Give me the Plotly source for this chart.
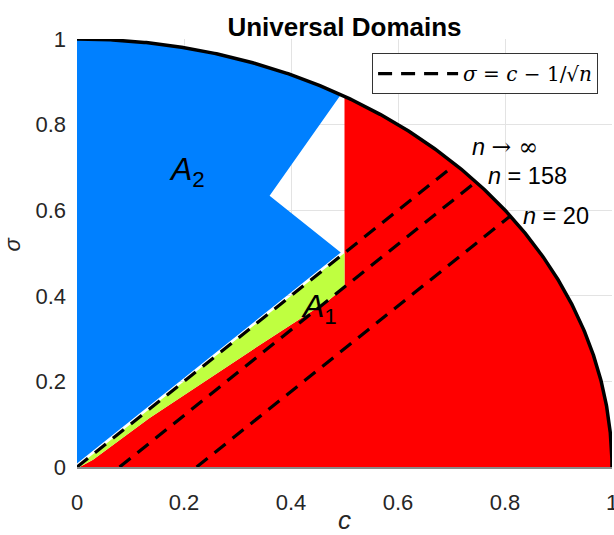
import numpy as np
import plotly.graph_objects as go

# ---- data ----
n_values = [np.inf, 158, 20]
n_labels = ["<i>n</i> <span style='font-family:DejaVu Serif'>→ ∞</span>",
            "<i>n</i> = 158", "<i>n</i> = 20"]

# lower boundary of A1 (green / red border)
a1_low_c = [0.005, 0.03, 0.135, 0.25, 0.327, 0.47, 0.5]
a1_low_s = [0.0, 0.017, 0.114, 0.21, 0.273, 0.389, 0.42]

# blue A2 region: lower edge offset above sigma = c, notch vertices
a2_gap = 0.008
notch_c = [0.493, 0.36, 0.493]
notch_s = [0.501, 0.634, None]   # top vertex lies on the unit circle
c_split = 0.5

x_ticks = [0, 0.2, 0.4, 0.6, 0.8, 1]
y_ticks = [0, 0.2, 0.4, 0.6, 0.8, 1]


def arc(c0, c1, num=200):
    t0, t1 = np.arccos(c0), np.arccos(c1)
    t = np.linspace(t0, t1, num)
    return list(np.cos(t)), list(np.sin(t))


BLUE = "#0080ff"
RED = "#ff0000"
GREEN = "#bfff40"

fig = go.Figure()

# A2 (blue)
ac, asg = arc(notch_c[2], 0.0)
blue_c = [0.0, notch_c[0], notch_c[1], notch_c[2]] + ac + [0.0]
blue_s = [a2_gap, notch_s[0], notch_s[1], float(np.sqrt(1 - notch_c[2] ** 2))] + asg + [a2_gap]
fig.add_trace(go.Scatter(x=blue_c, y=blue_s, fill="toself", fillcolor=BLUE,
                         mode="lines", line=dict(width=0), showlegend=False, hoverinfo="skip"))

# red region
rc, rs = arc(c_split, 1.0)
red_c = a1_low_c + [c_split] + rc + [a1_low_c[0]]
red_s = a1_low_s + [float(np.sqrt(1 - c_split ** 2))] + rs + [a1_low_s[0]]
fig.add_trace(go.Scatter(x=red_c, y=red_s, fill="toself", fillcolor=RED,
                         mode="lines", line=dict(width=0), showlegend=False, hoverinfo="skip"))

# A1 (green)
green_c = [0.0, c_split] + a1_low_c[::-1] + [0.0]
green_s = [0.0, c_split] + a1_low_s[::-1] + [0.0]
fig.add_trace(go.Scatter(x=green_c, y=green_s, fill="toself", fillcolor=GREEN,
                         mode="lines", line=dict(width=0), showlegend=False, hoverinfo="skip"))

# unit circle boundary
cc, cs = arc(0.0, 1.0, 400)
fig.add_trace(go.Scatter(x=cc, y=cs, mode="lines", line=dict(color="black", width=3.5),
                         showlegend=False, hoverinfo="skip"))

# dashed lines sigma = c - 1/sqrt(n)
for i, n in enumerate(n_values):
    d = 1.0 / np.sqrt(n)
    c_end = (d + np.sqrt(2 - d ** 2)) / 2
    fig.add_trace(go.Scatter(
        x=[d, c_end], y=[0.0, c_end - d], mode="lines",
        line=dict(color="black", width=3.2, dash="14px,9px"),
        name="<i>σ</i> = <i>c</i> − 1/√<i>n</i>", legendgroup="dash",
        showlegend=(i == 0), hoverinfo="skip"))

annotations = [
    dict(x=0.80, y=0.748, text=n_labels[0]),
    dict(x=0.765, y=0.68, text=n_labels[1], xanchor="left"),
    dict(x=0.83, y=0.587, text=n_labels[2], xanchor="left"),
]
for a in annotations:
    a.update(xref="x", yref="y", showarrow=False,
             font=dict(family="Liberation Sans", size=23.5, color="black"))
    a.setdefault("xanchor", "center")
fig.update_layout(annotations=annotations)

fig.add_annotation(x=0.205, y=0.69, xref="x", yref="y", showarrow=False,
                   text="<i>A</i><sub>2</sub>",
                   font=dict(family="Liberation Sans", size=32, color="black"))
fig.add_annotation(x=0.452, y=0.37, xref="x", yref="y", showarrow=False,
                   text="<i>A</i><sub>1</sub>",
                   font=dict(family="Liberation Sans", size=32, color="black"))

# axis titles
fig.add_annotation(x=0.5, y=-53 / 428, xref="paper", yref="paper", showarrow=False,
                   xanchor="center", yanchor="middle", text="<i>c</i>",
                   font=dict(family="Liberation Sans", size=26, color="#262626"))
fig.add_annotation(x=-65 / 535, y=0.52, xref="paper", yref="paper", showarrow=False,
                   xanchor="center", yanchor="middle", text="<i>σ</i>", textangle=-90,
                   font=dict(family="Liberation Sans", size=22, color="#262626"))

fig.update_layout(
    width=614, height=535,
    margin=dict(l=77, r=2, t=39, b=68, autoexpand=False),
    plot_bgcolor="white", paper_bgcolor="white",
    title=dict(text="<b>Universal Domains</b>", x=(77 + 267.5) / 614, xanchor="center",
               y=1 - 27 / 535, yanchor="middle",
               font=dict(family="Liberation Sans", size=26, color="black")),
    legend=dict(x=0.974, y=0.967, xanchor="right", yanchor="top",
                bgcolor="white", bordercolor="#333333", borderwidth=1,
                itemwidth=80,
                font=dict(family="DejaVu Serif", size=20, color="black")),
    xaxis=dict(range=[0, 1], tickvals=x_ticks, ticktext=[f"{v:g}" for v in x_ticks],
               showgrid=True, gridcolor="#e3e3e3", gridwidth=1, zeroline=False,
               showline=True, linecolor="#8a8a8a", linewidth=1.5,
               ticks="", ticklabelstandoff=15, automargin=False,
               ticklabeloverflow="allow",
               tickfont=dict(family="Liberation Sans", size=22, color="#262626")),
    yaxis=dict(range=[0, 1], tickvals=y_ticks, ticktext=[f"{v:g}" for v in y_ticks],
               showgrid=True, gridcolor="#e3e3e3", gridwidth=1, zeroline=False,
               showline=False, ticks="", ticklabelstandoff=10, automargin=False,
               tickfont=dict(family="Liberation Sans", size=22, color="#262626")),
)

fig.write_html("out.html", config={"displayModeBar": False},
               post_script="document.body.style.margin='0px';")
